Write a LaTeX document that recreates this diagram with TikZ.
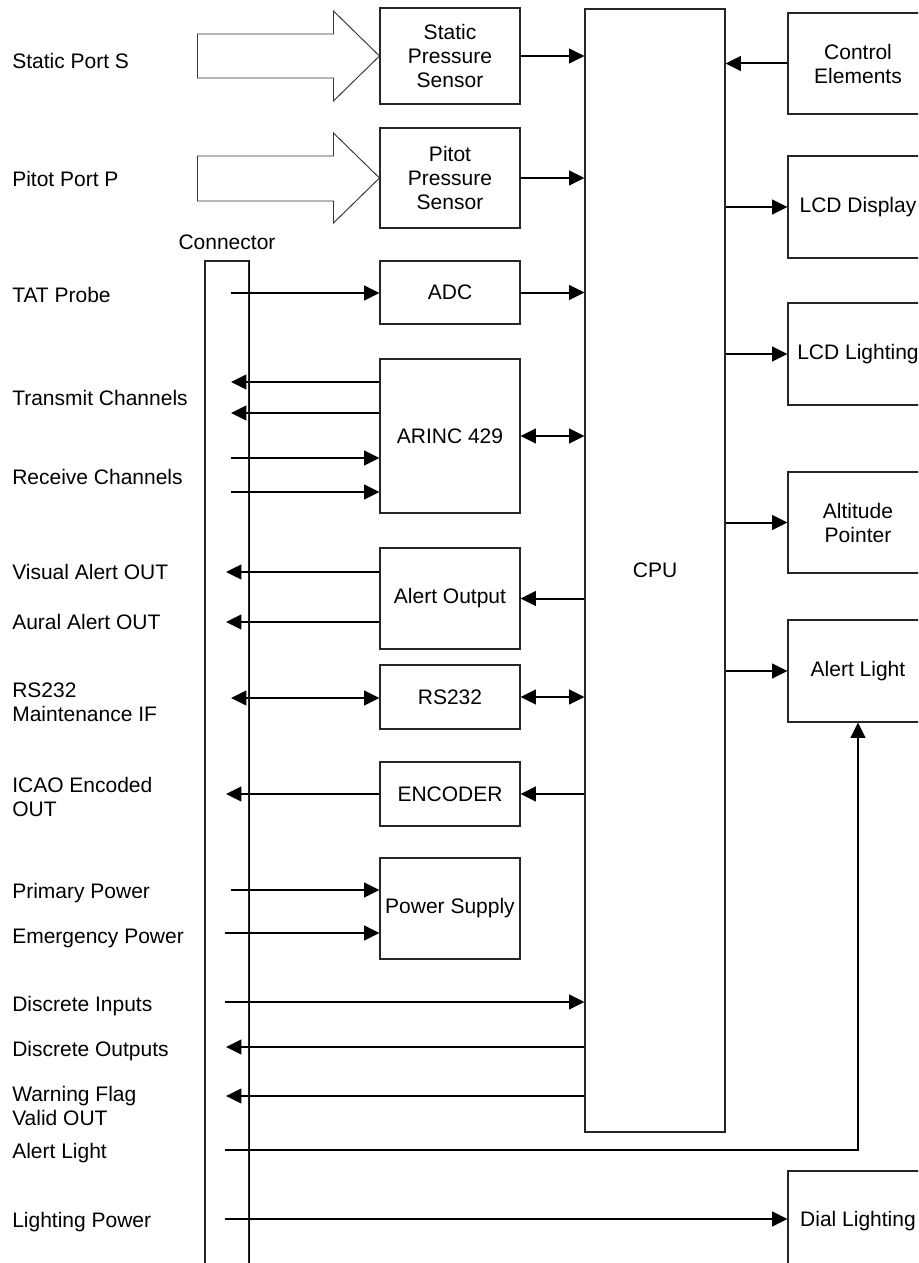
\documentclass[tikz,border=0pt]{standalone}
\usepackage{fontspec}
\setmainfont{Liberation Sans}
\usetikzlibrary{arrows.meta,positioning}

\begin{document}
\begin{tikzpicture}[
    x=0.75pt,y=-0.75pt,
    font=\fontsize{15.75}{18}\selectfont,
    block/.style={draw=black!85,line width=0.8pt,minimum width=105pt,align=center,inner sep=2pt},
    portlbl/.style={anchor=west,align=left,inner sep=0pt},
    sig/.style={-{Triangle[length=11.5pt,width=11pt]},line width=1.5pt},
    bus/.style={{Triangle[length=11.5pt,width=11pt]}-{Triangle[length=11.5pt,width=11pt]},line width=1.5pt},
    inlet/.style={draw=black!80,line width=0.7pt,fill=white}
  ]
  \useasboundingbox (0,0) rectangle (918,1263);
  \clip (0,0) rectangle (918,1263);

  \node[block,minimum height=72pt] (static) at (450,56) {Static\\Pressure\\Sensor};
  \node[block,minimum height=75pt] (pitot) at (450,178) {Pitot\\Pressure\\Sensor};
  \node[block,minimum height=47.25pt] (adc) at (450,292.5) {ADC};
  \node[block,minimum height=115.5pt] (arinc) at (450,436) {ARINC 429};
  \node[block,minimum height=75.75pt] (alertout) at (450,598.5) {Alert Output};
  \node[block,minimum height=48pt] (rs) at (450,697) {RS232};
  \node[block,minimum height=48pt] (enc) at (450,794) {ENCODER};
  \node[block,minimum height=75.75pt] (psu) at (450,908.5) {Power Supply};
  \node[block,minimum height=842.25pt] (cpu) at (655,570.5) {CPU};

  \node[block,minimum height=75.75pt] (ctrl) at (858,63.5) {Control\\Elements};
  \node[block,minimum height=76.5pt] (lcd) at (858,207) {LCD Display};
  \node[block,minimum height=76.5pt] (lcdlight) at (858,354) {LCD Lighting};
  \node[block,minimum height=75.75pt] (alt) at (858,522.5) {Altitude\\Pointer};
  \node[block,minimum height=76.5pt] (alert) at (858,671) {Alert Light};
  \node[block,minimum height=75.75pt] (dial) at (858,1221.5) {Dial Lighting};

  \node[draw=black!85,line width=0.8pt,minimum width=33pt,minimum height=771.75pt,inner sep=0pt] (conn) at (227,775.5) {};
  \draw[line width=1.4pt] (conn.north east) -- (conn.south east);
  \node (connlbl) at (227,242) {Connector};

  \node[portlbl] (lstatic) at (12,61) {Static Port S};
  \node[portlbl] (lpitot) at (12,179) {Pitot Port P};
  \node[portlbl] (ltat) at (12,295) {TAT Probe};
  \node[portlbl] (ltx) at (12,398) {Transmit Channels};
  \node[portlbl] (lrx) at (12,477) {Receive Channels};
  \node[portlbl] (lvis) at (12,572) {Visual Alert OUT};
  \node[portlbl] (laur) at (12,622) {Aural Alert OUT};
  \node[portlbl] (lrs) at (12,702) {RS232\\Maintenance IF};
  \node[portlbl] (licao) at (12,797) {ICAO Encoded\\OUT};
  \node[portlbl] (lprim) at (12,893) {Primary Power};
  \node[portlbl] (lemer) at (12,938) {Emergency Power};
  \node[portlbl] (ldin) at (12,1006) {Discrete Inputs};
  \node[portlbl] (ldout) at (12,1051) {Discrete Outputs};
  \node[portlbl] (lwarn) at (12,1106) {Warning Flag\\Valid OUT};
  \node[portlbl] (lalert) at (12,1153) {Alert Light};
  \node[portlbl] (llight) at (12,1222) {Lighting Power};

  \draw[inlet] (static.west) -- ++(-46,-45) -- ++(0,23) -- ++(-136,0) -- ++(0,44) -- ++(136,0) -- ++(0,23) -- cycle;
  \draw[inlet] (pitot.west) -- ++(-46,-45) -- ++(0,23) -- ++(-136,0) -- ++(0,45) -- ++(136,0) -- ++(0,22) -- cycle;

  \coordinate (ptat) at (231,293);
  \coordinate (ptx1) at (231,382);
  \coordinate (ptx2) at (231,413);
  \coordinate (prx1) at (231,458);
  \coordinate (prx2) at (231,492);
  \coordinate (pvis) at (226,572);
  \coordinate (paur) at (226,622);
  \coordinate (prs) at (231,698);
  \coordinate (picao) at (226,794);
  \coordinate (pprim) at (231,890);
  \coordinate (pemer) at (225,933);
  \coordinate (pdin) at (225,1002);
  \coordinate (pdout) at (226,1047);
  \coordinate (pwarn) at (226,1096);
  \coordinate (palert) at (225,1150);
  \coordinate (plight) at (225,1219);

  \draw[sig] (static.east) -- (static.east -| cpu.west);
  \draw[sig] (pitot.east) -- (pitot.east -| cpu.west);
  \draw[sig] (ptat) -- (ptat -| adc.west);
  \draw[sig] (adc.east) -- (adc.east -| cpu.west);
  \draw[sig] (ptx1 -| arinc.west) -- (ptx1);
  \draw[sig] (ptx2 -| arinc.west) -- (ptx2);
  \draw[sig] (prx1) -- (prx1 -| arinc.west);
  \draw[sig] (prx2) -- (prx2 -| arinc.west);
  \draw[bus] (arinc.east) -- (arinc.east -| cpu.west);
  \draw[sig] (pvis -| alertout.west) -- (pvis);
  \draw[sig] (paur -| alertout.west) -- (paur);
  \draw[sig] (alertout.east -| cpu.west) -- (alertout.east);
  \draw[bus] (prs) -- (prs -| rs.west);
  \draw[bus] (rs.east) -- (rs.east -| cpu.west);
  \draw[sig] (picao -| enc.west) -- (picao);
  \draw[sig] (enc.east -| cpu.west) -- (enc.east);
  \draw[sig] (pprim) -- (pprim -| psu.west);
  \draw[sig] (pemer) -- (pemer -| psu.west);
  \draw[sig] (pdin) -- (pdin -| cpu.west);
  \draw[sig] (pdout -| cpu.west) -- (pdout);
  \draw[sig] (pwarn -| cpu.west) -- (pwarn);

  \draw[sig] (ctrl.west) -- (ctrl.west -| cpu.east);
  \draw[sig] (lcd.west -| cpu.east) -- (lcd.west);
  \draw[sig] (lcdlight.west -| cpu.east) -- (lcdlight.west);
  \draw[sig] (alt.west -| cpu.east) -- (alt.west);
  \draw[sig] (alert.west -| cpu.east) -- (alert.west);
  \draw[sig] (palert) -| (alert.south);
  \draw[sig] (plight) -- (plight -| dial.west);
\end{tikzpicture}
\end{document}
